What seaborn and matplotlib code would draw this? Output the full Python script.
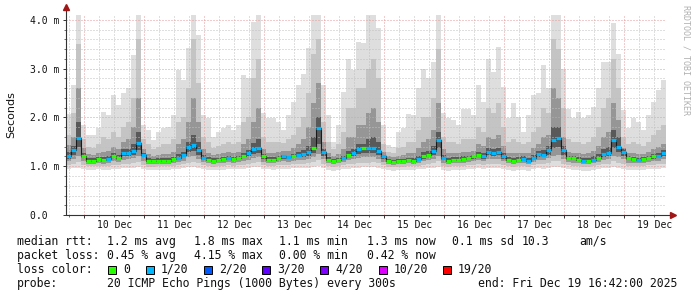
import numpy as np
import pandas as pd
import matplotlib
matplotlib.use("Agg")
import matplotlib.pyplot as plt
import matplotlib.dates as mdates
from matplotlib.patches import Rectangle
import seaborn as sns

# ---------------- data (2-hour consolidation, values in ms) ----------------
start_time = "2025-12-09 16:42"
step_hours = 2

median = [1.20,1.33,1.57,1.22,1.11,1.11,1.14,1.12,1.15,1.21,1.17,1.27,1.27,1.31,1.47,1.23,1.11,1.11,1.11,1.11,
          1.11,1.14,1.17,1.23,1.40,1.44,1.33,1.17,1.13,1.11,1.13,1.14,1.16,1.15,1.16,1.21,1.27,1.35,1.37,1.20,
          1.13,1.13,1.16,1.20,1.18,1.20,1.23,1.25,1.30,1.37,1.78,1.30,1.13,1.11,1.13,1.16,1.23,1.27,1.35,1.38,
          1.37,1.38,1.31,1.20,1.11,1.09,1.11,1.11,1.13,1.11,1.15,1.20,1.23,1.31,1.54,1.17,1.11,1.13,1.13,1.15,
          1.16,1.20,1.23,1.20,1.30,1.28,1.30,1.20,1.13,1.11,1.13,1.15,1.11,1.17,1.25,1.23,1.33,1.54,1.57,1.33,
          1.17,1.16,1.13,1.11,1.11,1.13,1.17,1.25,1.27,1.54,1.40,1.30,1.16,1.15,1.13,1.15,1.16,1.20,1.22,1.27]

# loss class index per point (0 -> "0", 1 -> "1/20")
loss = [1,1,1,0,0,0,0,0,1,0,0,1,1,1,1,1,0,0,0,0,
        0,0,1,1,1,1,1,1,0,0,0,0,1,0,0,0,1,1,1,0,
        0,0,0,1,1,0,1,1,1,0,1,1,0,0,0,1,0,1,1,0,
        1,1,1,1,0,0,0,0,0,0,1,0,0,1,1,1,0,0,0,0,
        0,0,0,1,1,1,1,1,0,0,0,1,1,1,1,1,1,1,1,1,
        0,0,0,1,0,1,0,1,1,1,1,1,0,0,1,0,0,0,1,1]

up_max = [2.08,2.66,4.15,1.84,1.64,1.64,1.78,2.12,2.05,2.46,2.25,2.50,2.60,3.28,4.15,1.85,1.75,1.54,1.70,1.78,
          1.81,2.05,2.97,2.77,3.42,4.15,3.69,2.05,1.98,1.60,1.70,1.78,1.85,1.74,1.85,2.87,2.80,3.96,4.15,2.10,
          1.98,1.98,1.91,1.74,2.05,2.32,2.66,2.90,3.42,4.15,4.15,2.66,2.05,1.50,1.84,2.53,3.21,2.97,3.55,3.52,
          4.15,4.15,3.83,1.84,1.43,1.40,1.70,1.78,2.08,2.05,2.60,3.00,2.80,3.14,4.15,2.10,1.98,1.95,1.84,2.18,
          2.18,2.05,2.66,2.32,3.21,2.94,3.45,2.63,1.98,2.29,2.01,1.70,2.05,2.46,2.50,3.07,2.60,4.15,4.15,3.00,
          2.18,1.98,2.12,1.98,2.05,2.22,2.60,3.14,3.14,3.93,3.31,2.15,1.78,1.98,1.91,1.74,2.05,2.32,2.56,2.77]
up_p90 = [1.64,2.10,3.50,1.55,1.40,1.38,1.45,1.60,1.55,1.70,1.60,1.80,1.90,2.40,3.60,1.55,1.45,1.35,1.40,1.45,
          1.45,1.55,1.90,2.00,2.60,3.60,2.70,1.60,1.50,1.38,1.42,1.45,1.50,1.45,1.50,1.90,2.00,2.80,3.20,1.60,
          1.50,1.50,1.50,1.48,1.55,1.65,1.80,2.00,2.50,3.30,3.60,1.90,1.50,1.35,1.45,1.70,2.20,2.20,2.60,2.60,
          3.00,3.20,2.80,1.45,1.30,1.28,1.38,1.40,1.50,1.50,1.75,2.00,2.00,2.40,3.40,1.60,1.50,1.50,1.45,1.55,
          1.55,1.55,1.80,1.70,2.20,2.10,2.30,1.80,1.50,1.55,1.50,1.45,1.50,1.70,1.80,2.20,2.10,3.60,3.40,2.20,
          1.55,1.50,1.50,1.45,1.50,1.60,1.80,2.20,2.40,3.20,2.60,1.60,1.45,1.50,1.45,1.42,1.50,1.65,1.75,1.85]
up_p75 = [1.43,1.60,2.60,1.38,1.25,1.24,1.28,1.30,1.32,1.40,1.35,1.50,1.55,1.80,2.40,1.35,1.25,1.22,1.24,1.26,
          1.25,1.30,1.45,1.55,1.90,2.40,1.90,1.35,1.28,1.24,1.26,1.27,1.30,1.27,1.30,1.45,1.55,1.90,2.20,1.35,
          1.28,1.28,1.30,1.32,1.32,1.38,1.45,1.55,1.80,2.30,2.70,1.50,1.28,1.22,1.26,1.35,1.60,1.60,1.85,1.85,
          2.10,2.20,1.90,1.30,1.20,1.18,1.22,1.23,1.27,1.27,1.38,1.50,1.55,1.75,2.30,1.35,1.28,1.28,1.27,1.30,
          1.30,1.32,1.45,1.42,1.60,1.55,1.65,1.42,1.28,1.28,1.28,1.28,1.28,1.38,1.45,1.60,1.65,2.60,2.40,1.60,
          1.30,1.28,1.27,1.25,1.27,1.32,1.42,1.60,1.70,2.30,1.95,1.38,1.27,1.27,1.26,1.26,1.29,1.36,1.40,1.45]
up_p60 = [1.30,1.42,1.90,1.28,1.17,1.16,1.19,1.18,1.20,1.27,1.23,1.35,1.36,1.45,1.70,1.27,1.16,1.15,1.16,1.16,
          1.16,1.19,1.25,1.30,1.50,1.65,1.50,1.23,1.18,1.16,1.17,1.18,1.20,1.19,1.20,1.27,1.34,1.48,1.55,1.25,
          1.18,1.18,1.21,1.24,1.22,1.26,1.30,1.33,1.42,1.60,2.00,1.35,1.18,1.15,1.17,1.22,1.32,1.35,1.45,1.46,
          1.55,1.60,1.50,1.23,1.14,1.12,1.14,1.15,1.17,1.16,1.22,1.30,1.32,1.42,1.70,1.24,1.17,1.18,1.18,1.20,
          1.21,1.24,1.29,1.27,1.37,1.35,1.38,1.27,1.18,1.16,1.18,1.20,1.17,1.24,1.32,1.34,1.42,1.80,1.80,1.42,
          1.22,1.20,1.18,1.16,1.17,1.20,1.25,1.35,1.40,1.75,1.60,1.36,1.20,1.19,1.17,1.18,1.20,1.25,1.28,1.33]
lo_p40 = [1.15,1.24,1.40,1.17,1.08,1.08,1.10,1.09,1.11,1.16,1.13,1.21,1.21,1.24,1.33,1.18,1.08,1.08,1.08,1.08,
          1.08,1.10,1.13,1.18,1.30,1.32,1.24,1.13,1.10,1.08,1.10,1.10,1.12,1.11,1.12,1.16,1.21,1.26,1.27,1.15,
          1.10,1.10,1.12,1.15,1.14,1.16,1.18,1.19,1.22,1.27,1.45,1.22,1.10,1.08,1.10,1.12,1.18,1.21,1.26,1.28,
          1.27,1.28,1.23,1.15,1.08,1.06,1.08,1.08,1.10,1.08,1.11,1.15,1.18,1.23,1.38,1.13,1.08,1.10,1.10,1.11,
          1.12,1.15,1.18,1.15,1.23,1.22,1.23,1.15,1.10,1.08,1.10,1.11,1.08,1.13,1.19,1.18,1.24,1.38,1.40,1.24,
          1.13,1.12,1.10,1.08,1.08,1.10,1.13,1.19,1.21,1.38,1.30,1.22,1.12,1.11,1.10,1.11,1.12,1.15,1.17,1.21]
lo_p25 = [1.10,1.15,1.22,1.10,1.05,1.05,1.06,1.05,1.07,1.10,1.08,1.13,1.14,1.16,1.20,1.10,1.04,1.04,1.05,1.05,
          1.05,1.06,1.08,1.11,1.18,1.20,1.15,1.08,1.06,1.05,1.06,1.06,1.08,1.07,1.08,1.10,1.13,1.17,1.18,1.09,
          1.06,1.06,1.08,1.10,1.09,1.10,1.12,1.13,1.15,1.18,1.25,1.14,1.06,1.04,1.06,1.08,1.12,1.14,1.17,1.18,
          1.18,1.19,1.15,1.09,1.04,1.03,1.04,1.04,1.06,1.05,1.07,1.10,1.12,1.15,1.22,1.07,1.04,1.06,1.06,1.07,
          1.08,1.10,1.12,1.10,1.15,1.14,1.15,1.10,1.06,1.05,1.06,1.07,1.05,1.08,1.12,1.12,1.16,1.22,1.23,1.15,
          1.08,1.07,1.06,1.05,1.05,1.06,1.08,1.12,1.14,1.22,1.18,1.14,1.07,1.07,1.06,1.07,1.08,1.10,1.11,1.14]
lo_p10 = [1.03,1.05,1.08,1.03,1.00,1.00,1.01,1.00,1.01,1.03,1.02,1.04,1.05,1.06,1.08,1.03,0.99,0.99,1.00,1.00,
          1.00,1.01,1.02,1.04,1.07,1.08,1.06,1.02,1.00,0.99,1.00,1.01,1.02,1.01,1.02,1.03,1.05,1.07,1.08,1.03,
          1.01,1.01,1.02,1.03,1.03,1.04,1.05,1.05,1.06,1.08,1.12,1.05,1.00,0.99,1.00,1.02,1.04,1.05,1.07,1.07,
          1.07,1.08,1.06,1.03,0.99,0.98,0.99,0.99,1.00,1.00,1.01,1.03,1.04,1.06,1.10,1.01,0.99,1.00,1.00,1.01,
          1.02,1.03,1.04,1.03,1.05,1.05,1.05,1.03,1.00,0.99,1.00,1.01,0.99,1.02,1.04,1.04,1.06,1.10,1.10,1.05,
          1.02,1.01,1.00,0.99,0.99,1.00,1.02,1.04,1.05,1.10,1.07,1.05,1.01,1.01,1.00,1.01,1.02,1.03,1.04,1.05]
lo_min = [0.95,0.96,0.97,0.94,0.93,0.93,0.94,0.92,0.93,0.95,0.94,0.96,0.96,0.97,0.98,0.95,0.92,0.92,0.93,0.93,
          0.93,0.94,0.95,0.96,0.98,0.99,0.97,0.94,0.93,0.92,0.93,0.93,0.95,0.94,0.94,0.95,0.96,0.98,0.98,0.95,
          0.94,0.93,0.94,0.95,0.95,0.96,0.96,0.97,0.97,0.98,1.00,0.96,0.92,0.91,0.92,0.94,0.95,0.96,0.97,0.98,
          0.98,0.98,0.97,0.94,0.92,0.91,0.92,0.92,0.93,0.93,0.94,0.95,0.96,0.97,0.99,0.93,0.91,0.92,0.93,0.93,
          0.94,0.95,0.96,0.95,0.96,0.96,0.96,0.95,0.92,0.91,0.92,0.93,0.91,0.94,0.96,0.95,0.97,0.99,0.99,0.96,
          0.94,0.93,0.92,0.91,0.91,0.92,0.94,0.96,0.96,0.99,0.97,0.95,0.93,0.93,0.92,0.93,0.94,0.95,0.95,0.96]

loss_labels = ["0", "1/20", "2/20", "3/20", "4/20", "10/20", "19/20"]
loss_colors = ["#26ff00", "#00b8ff", "#0059ff", "#5e00ff", "#7e00ff", "#dd00ff", "#ff0000"]

day_labels = ["10 Dec", "11 Dec", "12 Dec", "13 Dec", "14 Dec", "15 Dec", "16 Dec", "17 Dec", "18 Dec", "19 Dec"]
first_day = "2025-12-10"
y_ticks = [0, 1, 2, 3, 4]
y_tick_labels = ["0.0  ", "1.0 m", "2.0 m", "3.0 m", "4.0 m"]

stats_rows = [
    ["median rtt:", "1.2 ms avg", "1.8 ms max", "1.1 ms min", "1.3 ms now", "0.1 ms sd", "10.3", "am/s"],
    ["packet loss:", "0.45 % avg", "4.15 % max", "0.00 % min", "0.42 % now"],
]
probe_text = "20 ICMP Echo Pings (1000 Bytes) every 300s"
end_text = "end: Fri Dec 19 16:42:00 2025"

# ---------------- figure ----------------
sns.set_theme(style="white")
plt.rcParams["font.family"] = ["DejaVu Sans"]
MONO = "DejaVu Sans Mono"
W, H = 697, 297

fig = plt.figure(figsize=(W / 100, H / 100), dpi=100, facecolor="white")
ax = fig.add_axes([66 / W, 82 / H, 600 / W, 200 / H])
ax.set_facecolor("white")

times = pd.date_range(start_time, periods=len(median), freq=f"{step_hours}h")
t_end = times[-1] + pd.Timedelta(hours=step_hours)
t_num = mdates.date2num(times.to_pydatetime())
t_edges = np.append(t_num, mdates.date2num(t_end.to_pydatetime()))

def ext(a):
    a = np.asarray(a, dtype=float)
    return np.append(a, a[-1])

bands = [(lo_min, up_max, "#dedede"), (lo_p10, up_p90, "#c4c4c4"),
         (lo_p25, up_p75, "#969696"), (lo_p40, up_p60, "#595959")]
for lo, hi, col in bands:
    ax.fill_between(t_edges, ext(lo), ext(hi), step="post", color=col, lw=0, zorder=1)

sns.lineplot(x=t_edges, y=ext(median), drawstyle="steps-post", color="#1a1a1a",
             lw=0.8, ax=ax, zorder=4)
ax.hlines(median, t_num, t_edges[1:], colors=[loss_colors[i] for i in loss],
          lw=2.3, zorder=5)

ymax = 200 / 48.75
ax.set_ylim(0, ymax)
ax.set_xlim(t_edges[0], t_edges[-1])

# grid (dotted: 1px on, 2px off)
DOT = (0, (1, 2))
GRID_MINOR = "#c0c0c0"
GRID_MAJOR = "#e79a9a"
GKW = dict(lw=0.72, ls=DOT, zorder=3)
days = pd.date_range(first_day, periods=len(day_labels), freq="D")
six_h = pd.date_range(times[0].floor("6h"), t_end, freq="6h")
for t in six_h:
    if t.hour != 0 and times[0] <= t <= t_end:
        ax.axvline(mdates.date2num(t.to_pydatetime()), color=GRID_MINOR, **GKW)
for v in np.arange(0.2, 4.01, 0.2):
    if abs(v - round(v)) > 1e-6:
        ax.axhline(v, color=GRID_MINOR, **GKW)
for d in days:
    ax.axvline(mdates.date2num(d.to_pydatetime()), color=GRID_MAJOR, **GKW)
for v in y_ticks[1:]:
    ax.axhline(v, color=GRID_MAJOR, **GKW)

# axes / ticks
for s in ax.spines.values():
    s.set_visible(False)
ax.plot([0, 0], [0, 1.035], transform=ax.transAxes, color="#333333", lw=0.8,
        clip_on=False, zorder=6)
ax.plot([0, 1.01], [0, 0], transform=ax.transAxes, color="#333333", lw=0.8,
        clip_on=False, zorder=6)
ax.plot([0], [1.04], marker="^", ms=4, color="#a01515", transform=ax.transAxes,
        clip_on=False, zorder=7)
ax.plot([1.012], [0], marker=">", ms=4, color="#a01515", transform=ax.transAxes,
        clip_on=False, zorder=7)

ax.set_yticks(y_ticks)
ax.set_yticklabels(y_tick_labels, family=MONO, fontsize=7, color="#111111")
ax.set_yticks(np.arange(0.2, 4.01, 0.2), minor=True)
ax.xaxis.set_major_locator(mdates.DayLocator())
ax.xaxis.set_major_formatter(matplotlib.ticker.NullFormatter())
ax.xaxis.set_minor_locator(mdates.HourLocator(byhour=[6, 12, 18]))
ax.tick_params(axis="both", which="major", direction="out", length=2.5, width=0.7,
               color="#333333", pad=2.2, left=True, bottom=True)
ax.tick_params(axis="both", which="minor", direction="out", length=1.2, width=0.6,
               color="#555555", left=True, bottom=True)
ax.grid(False)
ax.set_xlabel("")
ax.set_ylabel("")

for d, lab in zip(days, day_labels):
    ax.text(mdates.date2num((d + pd.Timedelta(hours=12)).to_pydatetime()), -0.025, lab,
            transform=ax.get_xaxis_transform(), ha="center", va="top",
            family=MONO, fontsize=7, color="#111111")

fig.text(11 / W, 1 - 115 / H, "Seconds", rotation=90, ha="center", va="center",
         fontsize=8, color="#111111")
fig.text(686 / W, 1 - 60 / H, "RRDTOOL / TOBI OETIKER", rotation=270, ha="center",
         va="center", family=MONO, fontsize=6, color="#b0b0b0")

# legend / stats
FS = 8.3
def ftxt(x, y, s, **kw):
    fig.text(x / W, 1 - y / H, s, family=MONO, fontsize=FS, color="#111111",
             ha="left", va="baseline", **kw)

row1_x = [16.7, 107.3, 194, 279.3, 366.7, 451.7, 521.7, 579]
for x, s in zip(row1_x, stats_rows[0]):
    ftxt(x, 245, s)
row2_x = [16.7, 107.3, 194, 279.3, 366.7]
for x, s in zip(row2_x, stats_rows[1]):
    ftxt(x, 259, s)

ftxt(16.7, 273, "loss color:")
box_x = [108, 146, 204, 262, 320, 379, 443]
for bx, lab, col in zip(box_x, loss_labels, loss_colors):
    fig.patches.append(Rectangle((bx / W, 1 - 273.5 / H), 8 / W, 8 / H,
                                 transform=fig.transFigure, facecolor=col,
                                 edgecolor="#000000", lw=0.7))
    ftxt(bx + 15, 273, lab)

ftxt(16.7, 287, "probe:")
ftxt(107.3, 287, probe_text)
ftxt(478.3, 287, end_text)

fig.savefig("out.png", dpi=100, facecolor="white")
